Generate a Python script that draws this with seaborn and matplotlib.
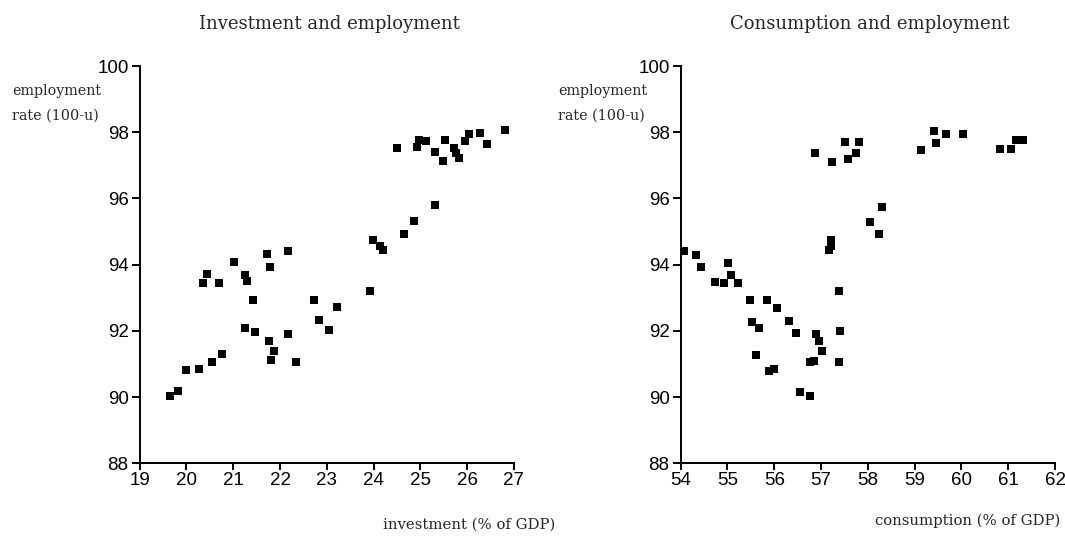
import matplotlib
matplotlib.use("Agg")
import matplotlib.pyplot as plt
import seaborn as sns
import pandas as pd

# Investment share of GDP (%) against the employment rate (100 - unemployment)
investment = [
    19.65, 19.82, 20.00, 20.26, 20.55, 20.75, 20.35, 20.43, 20.69, 21.01,
    21.26, 21.29, 21.26, 21.43, 21.46, 21.73, 21.79, 21.77, 21.87, 21.80,
    22.17, 22.17, 22.33, 22.73, 22.84, 23.04, 23.22, 23.92, 23.99, 24.14,
    24.20, 24.65, 24.86, 25.31, 24.49, 24.92, 24.96, 25.11, 25.31, 25.48,
    25.53, 25.72, 25.77, 25.82, 25.95, 26.03, 26.28, 26.43, 26.81,
]
employment_inv = [
    90.04, 90.17, 90.83, 90.84, 91.07, 91.29, 93.46, 93.73, 93.46, 94.08,
    93.70, 93.51, 92.10, 92.92, 91.98, 94.31, 93.93, 91.70, 91.40, 91.13,
    94.41, 91.92, 91.07, 92.92, 92.32, 92.04, 92.72, 93.20, 94.75, 94.56,
    94.43, 94.93, 95.31, 95.79, 97.52, 97.54, 97.78, 97.72, 97.40, 97.12,
    97.75, 97.52, 97.38, 97.22, 97.74, 97.96, 97.97, 97.64, 98.06,
]

# Consumption share of GDP (%) against the employment rate
consumption = [
    54.08, 54.33, 54.44, 55.01, 55.08, 54.74, 54.92, 55.22, 55.48, 55.85,
    56.05, 55.53, 55.68, 56.31, 56.46, 56.89, 56.95, 57.03, 56.84, 56.76,
    55.60, 55.88, 55.99, 56.54, 56.77, 57.16, 57.22, 57.22, 57.38, 57.40,
    57.38, 56.87, 57.23, 57.51, 57.81, 57.74, 57.58, 59.42, 59.66, 60.04,
    59.45, 59.14, 60.82, 61.07, 61.17, 61.31, 58.31, 58.04, 58.23,
]
employment_con = [
    94.40, 94.30, 93.94, 94.05, 93.69, 93.49, 93.44, 93.44, 92.92, 92.92,
    92.69, 92.27, 92.09, 92.31, 91.94, 91.91, 91.69, 91.39, 91.10, 91.06,
    91.28, 90.78, 90.84, 90.16, 90.03, 94.43, 94.55, 94.74, 93.19, 92.01,
    91.06, 97.36, 97.10, 97.71, 97.71, 97.38, 97.20, 98.04, 97.94, 97.96,
    97.66, 97.45, 97.50, 97.50, 97.76, 97.76, 95.75, 95.30, 94.92,
]

y_ticks = [88, 90, 92, 94, 96, 98, 100]
inv_ticks = [19, 20, 21, 22, 23, 24, 25, 26, 27]
con_ticks = [54, 55, 56, 57, 58, 59, 60, 61, 62]

titles = ["Investment and employment", "Consumption and employment"]
x_labels = ["investment (% of GDP)", "consumption (% of GDP)"]
y_label_lines = ["employment", "rate (100-u)"]

sns.set_style("ticks")
plt.rcParams["font.family"] = ["Liberation Sans", "DejaVu Sans"]
plt.rcParams["axes.linewidth"] = 1.4
plt.rcParams["xtick.major.width"] = 1.4
plt.rcParams["ytick.major.width"] = 1.4

W, H = 1065, 537
fig = plt.figure(figsize=(W / 100, H / 100), dpi=100)

serif = ["DejaVu Serif"]

panels = [
    dict(df=pd.DataFrame({"x": investment, "y": employment_inv}),
         left=139.7, xticks=inv_ticks, title_cx=329, xl_cx=469, xl_base=529,
         yl_left=12),
    dict(df=pd.DataFrame({"x": consumption, "y": employment_con}),
         left=680.7, xticks=con_ticks, title_cx=870, xl_cx=968, xl_base=525,
         yl_left=558),
]

ax_w, ax_top, ax_bot = 374.3, 66.0, 463.3

for i, p in enumerate(panels):
    ax = fig.add_axes([p["left"] / W, 1 - ax_bot / H, ax_w / W, (ax_bot - ax_top) / H])
    sns.scatterplot(data=p["df"], x="x", y="y", ax=ax, marker="s", s=27,
                    color="black", linewidth=0, legend=False)
    ax.set_xlim(p["xticks"][0], p["xticks"][-1])
    ax.set_ylim(y_ticks[0], y_ticks[-1])
    ax.set_xticks(p["xticks"])
    ax.set_yticks(y_ticks)
    ax.set_xlabel("")
    ax.set_ylabel("")
    ax.tick_params(axis="x", length=5, pad=1.5, labelsize=13.5, colors="black")
    ax.tick_params(axis="y", length=5.5, pad=2.5, labelsize=13.5, colors="black")
    for side in ("left", "bottom"):
        ax.spines[side].set_color("black")
    sns.despine(ax=ax)

    fig.text(p["title_cx"] / W, 1 - 29 / H, titles[i], ha="center", va="baseline",
             fontsize=13, family=serif)
    fig.text(p["xl_cx"] / W, 1 - p["xl_base"] / H, x_labels[i], ha="center",
             va="baseline", fontsize=10.7, family=serif)
    for j, line in enumerate(y_label_lines):
        fig.text(p["yl_left"] / W, 1 - (95 + 25 * j) / H, line, ha="left",
                 va="baseline", fontsize=10.3, family=serif)

fig.savefig("out.png", dpi=100, facecolor="white")
